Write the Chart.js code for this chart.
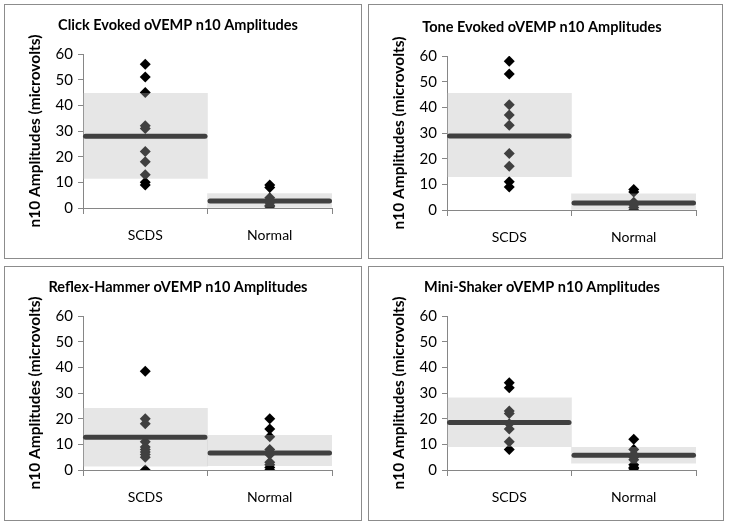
<!DOCTYPE html>
<html>
<head>
<meta charset="utf-8">
<script src="https://cdn.jsdelivr.net/npm/chart.js@4"></script>
<style>
  html, body { margin: 0; padding: 0; background: #ffffff; }
  body { width: 729px; height: 528px; position: relative; overflow: hidden; }
  .panel { position: absolute; border: 1px solid #8c8c8c; background: #fff; }
  .panel canvas { display: block; }
</style>
</head>
<body>
<div class="panel" id="p0" style="left:4px;top:4px;width:356px;height:253px"><canvas id="c0" width="356" height="253"></canvas></div>
<div class="panel" id="p1" style="left:368px;top:4px;width:353px;height:253px"><canvas id="c1" width="353" height="253"></canvas></div>
<div class="panel" id="p2" style="left:4px;top:266px;width:356px;height:253px"><canvas id="c2" width="356" height="253"></canvas></div>
<div class="panel" id="p3" style="left:368px;top:266px;width:354px;height:253px"><canvas id="c3" width="354" height="253"></canvas></div>
<script>
// ---- Data ----
const categories = ['SCDS', 'Normal'];
const yTicks = [0, 10, 20, 30, 40, 50, 60];
const yAxisTitle = 'n10 Amplitudes (microvolts)';

const titles = [
  'Click Evoked oVEMP n10 Amplitudes',
  'Tone Evoked oVEMP n10 Amplitudes',
  'Reflex-Hammer oVEMP n10 Amplitudes',
  'Mini-Shaker oVEMP n10 Amplitudes'
];

// individual subject amplitudes (microvolts)
const clickScds   = [56, 51, 45, 32, 31, 22, 18, 13, 10, 9];
const clickNormal = [9, 8, 4, 3, 2, 1, 0.5];
const toneScds    = [58, 53, 41, 37, 33, 22, 17, 11, 9];
const toneNormal  = [8, 7, 3, 2, 1, 0];
const hammerScds  = [38.5, 20, 18, 11, 9, 8, 7, 6, 5, 0];
const hammerNormal= [20, 16, 13, 8, 7, 6, 3, 2, 1, 0];
const shakerScds  = [34, 32, 23, 22, 18, 16, 11, 8];
const shakerNormal= [12, 8, 6, 5, 4, 2, 1, 0.5];

// group means [SCDS, Normal]
const clickMeans  = [28.0, 2.7];
const toneMeans   = [28.8, 2.7];
const hammerMeans = [12.8, 6.6];
const shakerMeans = [18.5, 5.7];

// shaded range (mean ± SD) [low, high] for [SCDS, Normal]
const clickRanges  = [[11.5, 44.7], [0, 5.6]];
const toneRanges   = [[13.0, 45.5], [0, 6.3]];
const hammerRanges = [[1.5, 24.0], [1.7, 13.5]];
const shakerRanges = [[9.1, 28.1], [2.7, 8.8]];

const panelScds   = [clickScds, toneScds, hammerScds, shakerScds];
const panelNormal = [clickNormal, toneNormal, hammerNormal, shakerNormal];
const panelMeans  = [clickMeans, toneMeans, hammerMeans, shakerMeans];
const panelRanges = [clickRanges, toneRanges, hammerRanges, shakerRanges];

// ---- Rendering ----
const FONT = 'Lato, "Open Sans", "Liberation Sans", sans-serif';
const AXIS = '#868686';
const panelTopShift = [0, 2, 0, 0];

const meanLinePlugin = {
  id: 'meanLines',
  beforeDatasetsDraw(chart, args, opts) {
    const boxMeta = chart.getDatasetMeta(0);
    const y = chart.scales.y;
    const ctx = chart.ctx;
    ctx.save();
    ctx.strokeStyle = '#000';
    ctx.lineWidth = 5;
    ctx.lineCap = 'round';
    opts.means.forEach((m, i) => {
      const bar = boxMeta.data[i];
      const half = bar.width / 2;
      const py = y.getPixelForValue(m);
      ctx.beginPath();
      ctx.moveTo(bar.x - half + 2.5, py);
      ctx.lineTo(bar.x + half - 2.5, py);
      ctx.stroke();
    });
    ctx.restore();
  }
};

function makeChart(idx) {
  const canvas = document.getElementById('c' + idx);
  const scds = panelScds[idx].map(v => ({ x: categories[0], y: v }));
  const normal = panelNormal[idx].map(v => ({ x: categories[1], y: v }));
  const rightPad = canvas.width - 327;
  const shift = panelTopShift[idx];
  new Chart(canvas, {
    type: 'bar',
    data: {
      labels: categories,
      datasets: [
        {
          type: 'bar',
          data: panelRanges[idx],
          backgroundColor: 'rgba(183,183,183,0.35)',
          borderWidth: 0,
          barPercentage: 1,
          categoryPercentage: 1,
          order: 0
        },
        {
          type: 'line',
          data: scds,
          showLine: false,
          pointStyle: 'rectRot',
          pointRadius: 5.5,
          pointBackgroundColor: '#000',
          pointBorderWidth: 0,
          order: 1
        },
        {
          type: 'line',
          data: normal,
          showLine: false,
          pointStyle: 'rectRot',
          pointRadius: 5.5,
          pointBackgroundColor: '#000',
          pointBorderWidth: 0,
          order: 1
        }
      ]
    },
    options: {
      responsive: false,
      animation: false,
      events: [],
      layout: { padding: { left: 19, right: rightPad, top: 0, bottom: 0 } },
      plugins: {
        legend: { display: false },
        tooltip: { enabled: false },
        title: {
          display: true,
          text: titles[idx],
          color: '#000',
          font: { family: FONT, size: 14.5, weight: 'bold', lineHeight: 1.2 },
          padding: { top: 12 + shift, bottom: 19.6 }
        },
        meanLines: { means: panelMeans[idx] }
      },
      scales: {
        x: {
          type: 'category',
          offset: true,
          grid: { display: true, offset: true, drawOnChartArea: false, drawTicks: true, tickLength: 6, color: AXIS },
          border: { display: true, color: AXIS, width: 1 },
          ticks: { color: '#000', font: { family: FONT, size: 14 }, padding: 13 },
          afterFit(scale) { scale.height = 50 - shift; }
        },
        y: {
          min: 0,
          max: 60,
          afterBuildTicks(scale) { scale.ticks = yTicks.map(v => ({ value: v })); },
          grid: { display: true, drawOnChartArea: false, drawTicks: true, tickLength: 5, color: AXIS },
          border: { display: true, color: AXIS, width: 1 },
          ticks: { color: '#000', font: { family: FONT, size: 15 }, padding: 5 },
          title: {
            display: true,
            text: yAxisTitle,
            color: '#000',
            font: { family: FONT, size: 15.5, weight: 'bold', lineHeight: 1.2 },
            padding: { top: 2, bottom: 0 }
          },
          afterFit(scale) { scale.width = 59; }
        }
      }
    },
    plugins: [meanLinePlugin]
  });
}

[0, 1, 2, 3].forEach(makeChart);
</script>
</body>
</html>
